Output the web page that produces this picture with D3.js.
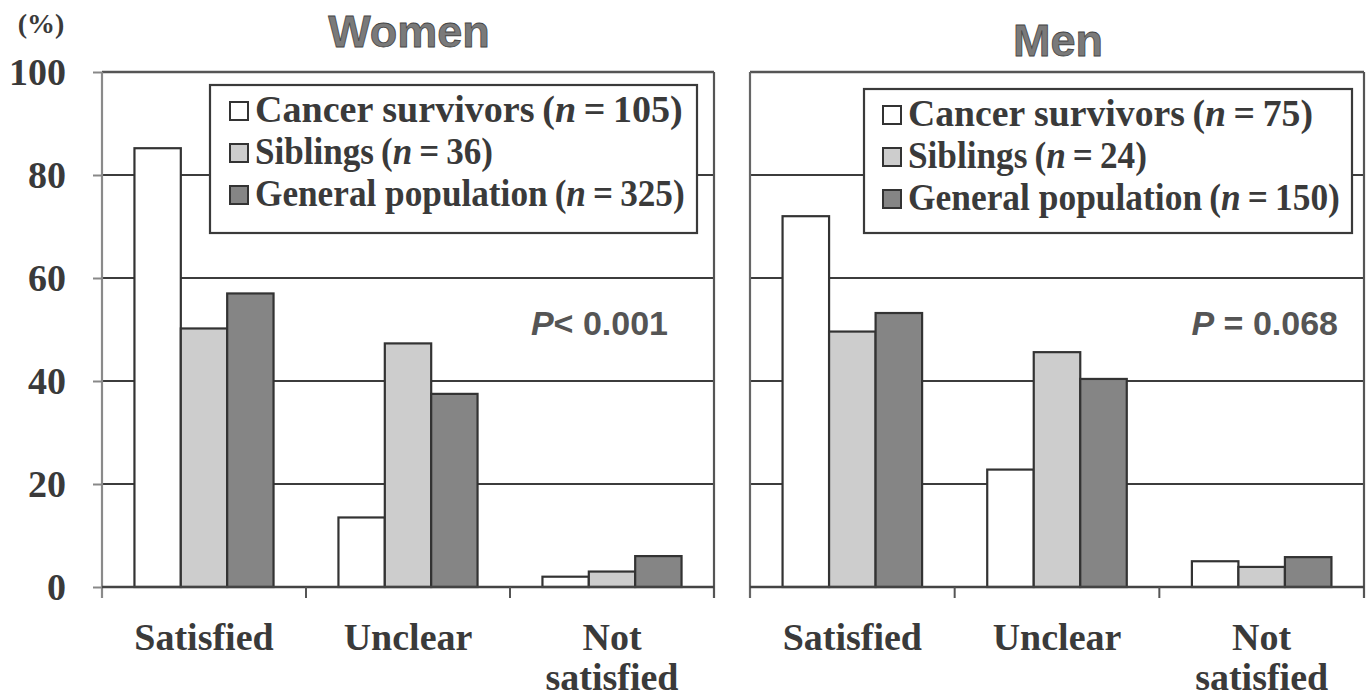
<!DOCTYPE html>
<html>
<head>
<meta charset="utf-8">
<script src="https://cdn.jsdelivr.net/npm/d3@7"></script>
<style>
html,body{margin:0;padding:0;background:#fff;}
svg{display:block;}
</style>
</head>
<body>
<svg id="chart" width="1367" height="699"></svg>
<script>
// ---- data ----
const categories = ["Satisfied", "Unclear", "Not satisfied"];
const seriesNames = ["Cancer survivors", "Siblings", "General population"];
const womenN = [105, 36, 325];
const menN = [75, 24, 150];
const womenCancer = [85.2, 13.5, 2.0];
const womenSiblings = [50.2, 47.3, 3.0];
const womenGeneral = [57.0, 37.5, 6.0];
const menCancer = [72.0, 22.8, 5.0];
const menSiblings = [49.6, 45.6, 3.9];
const menGeneral = [53.2, 40.4, 5.8];
const yTicks = [0, 20, 40, 60, 80, 100];
const pWomen = "< 0.001";
const pMen = " = 0.068";

const colors = ["#ffffff", "#cdcdcd", "#858585"];
const svg = d3.select("#chart");
const textCol = "#3a3a3a";
const SERIF = '"Liberation Serif", "Times New Roman", Times, serif';
const SANS = '"Liberation Sans", Arial, Helvetica, sans-serif';

const y = d3.scaleLinear().domain([0, 100]).range([587, 72]);

function serifText(sel) {
  return sel.style("font-family", SERIF).style("font-weight", "bold");
}

function panel(opts) {
  const g = svg.append("g");
  const x0 = d3.scaleBand().domain(categories).range([opts.x0, opts.x1]).paddingInner(0).paddingOuter(0);
  const x1 = d3.scaleBand().domain(seriesNames).range([0, x0.bandwidth()]).paddingInner(0).paddingOuter(0.7);

  // gridlines
  g.append("g").selectAll("line").data(yTicks.filter(t => t > 0 && t < 100)).join("line")
    .attr("x1", opts.x0).attr("x2", opts.x1)
    .attr("y1", d => y(d)).attr("y2", d => y(d))
    .attr("stroke", "#3c3c3c").attr("stroke-width", 2.2);

  // frame top/right
  g.append("line").attr("x1", opts.x0).attr("x2", opts.x1).attr("y1", y(100)).attr("y2", y(100))
    .attr("stroke", "#555").attr("stroke-width", 2.4);
  g.append("line").attr("x1", opts.x1).attr("x2", opts.x1).attr("y1", y(100)).attr("y2", y(0) + 11)
    .attr("stroke", "#555").attr("stroke-width", 2.2);

  // bars
  const series = [opts.cancer, opts.siblings, opts.general];
  categories.forEach((c, ci) => {
    seriesNames.forEach((s, si) => {
      const v = series[si][ci];
      g.append("rect")
        .attr("x", x0(c) + x1(s)).attr("width", x1.bandwidth())
        .attr("y", y(v)).attr("height", y(0) - y(v))
        .attr("fill", colors[si]).attr("stroke", "#333").attr("stroke-width", 2.2);
    });
  });

  // left axis line
  g.append("line").attr("x1", opts.x0).attr("x2", opts.x0).attr("y1", y(100)).attr("y2", y(0) + 11)
    .attr("stroke", opts.showY ? "#8a8a8a" : "#666").attr("stroke-width", 2.2);
  // bottom axis
  g.append("line").attr("x1", opts.x0).attr("x2", opts.x1).attr("y1", y(0)).attr("y2", y(0))
    .attr("stroke", "#444").attr("stroke-width", 2.6);
  // category boundary ticks
  g.append("g").selectAll("line").data(categories.slice(1)).join("line")
    .attr("x1", d => x0(d)).attr("x2", d => x0(d)).attr("y1", y(0)).attr("y2", y(0) + 11)
    .attr("stroke", "#555").attr("stroke-width", 2);

  // category labels
  categories.forEach(c => {
    const cx = x0(c) + x0.bandwidth() / 2;
    const words = c === "Not satisfied" ? ["Not", "satisfied"] : [c];
    words.forEach((w, i) => {
      serifText(g.append("text")).attr("x", cx).attr("y", 650 + i * 40)
        .attr("text-anchor", "middle").style("font-size", "38px").attr("fill", textCol).text(w);
    });
  });

  if (opts.showY) {
    const ya = d3.axisLeft(y).tickValues(yTicks).tickSize(9).tickPadding(8);
    const ag = g.append("g").attr("transform", `translate(${opts.x0},0)`).call(ya);
    ag.select(".domain").remove();
    ag.selectAll(".tick line").attr("stroke", "#888").attr("stroke-width", 2);
    serifText(ag.selectAll(".tick text")).style("font-size", "38px").attr("fill", textCol)
      .attr("x", -36).attr("dy", "0.33em");
    serifText(g.append("text")).attr("x", 41).attr("y", 33).attr("text-anchor", "middle")
      .style("font-size", "28px").attr("fill", textCol).text("(%)");
  }

  // title
  g.append("text").attr("x", opts.titleX).attr("y", opts.titleY).attr("text-anchor", "middle")
    .style("font-family", SANS).style("font-weight", "bold").style("font-size", "45px")
    .attr("fill", "#7a7a7a").attr("stroke", "#444").attr("stroke-width", 0.8).text(opts.title);

  // legend
  const L = opts.legend;
  g.append("rect").attr("x", L.x).attr("y", L.y).attr("width", L.w).attr("height", L.h)
    .attr("fill", "#fff").attr("stroke", "#3a3a3a").attr("stroke-width", 2.2);
  seriesNames.forEach((s, i) => {
    const by = L.y + 37 + i * 42;
    g.append("rect").attr("x", L.tx - 25).attr("y", by - 20).attr("width", 18).attr("height", 18)
      .attr("fill", colors[i]).attr("stroke", "#333").attr("stroke-width", 2);
    const t = serifText(g.append("text")).attr("x", 0).attr("y", 0)
      .style("font-size", "38px").attr("fill", textCol);
    t.append("tspan").text(s + "\u2009(");
    t.append("tspan").style("font-style", "italic").text("n");
    t.append("tspan").text("\u2009=\u2009" + opts.n[i] + ")");
    const w = t.node().getComputedTextLength();
    const k = L.tw[i] / w;
    t.attr("transform", `translate(${L.tx},${by}) scale(${k},1)`);
  });

  // P value
  const pt = g.append("text").attr("x", opts.pX).attr("y", 335).attr("text-anchor", "end")
    .style("font-family", SANS).style("font-weight", "bold").style("font-size", "34px").attr("fill", "#555");
  pt.append("tspan").style("font-style", "italic").text("P");
  pt.append("tspan").text(opts.p);
}

panel({
  x0: 102, x1: 714, showY: true, title: "Women", titleX: 409, titleY: 47,
  cancer: womenCancer, siblings: womenSiblings, general: womenGeneral, n: womenN,
  legend: {x: 210, y: 85, w: 487, h: 148, tx: 255, tw: [428, 238, 430]},
  pX: 668, p: pWomen
});
panel({
  x0: 750, x1: 1364, showY: false, title: "Men", titleX: 1058, titleY: 56,
  cancer: menCancer, siblings: menSiblings, general: menGeneral, n: menN,
  legend: {x: 864, y: 89, w: 488, h: 144, tx: 908, tw: [405, 239, 432]},
  pX: 1338, p: pMen
});
</script>
</body>
</html>
